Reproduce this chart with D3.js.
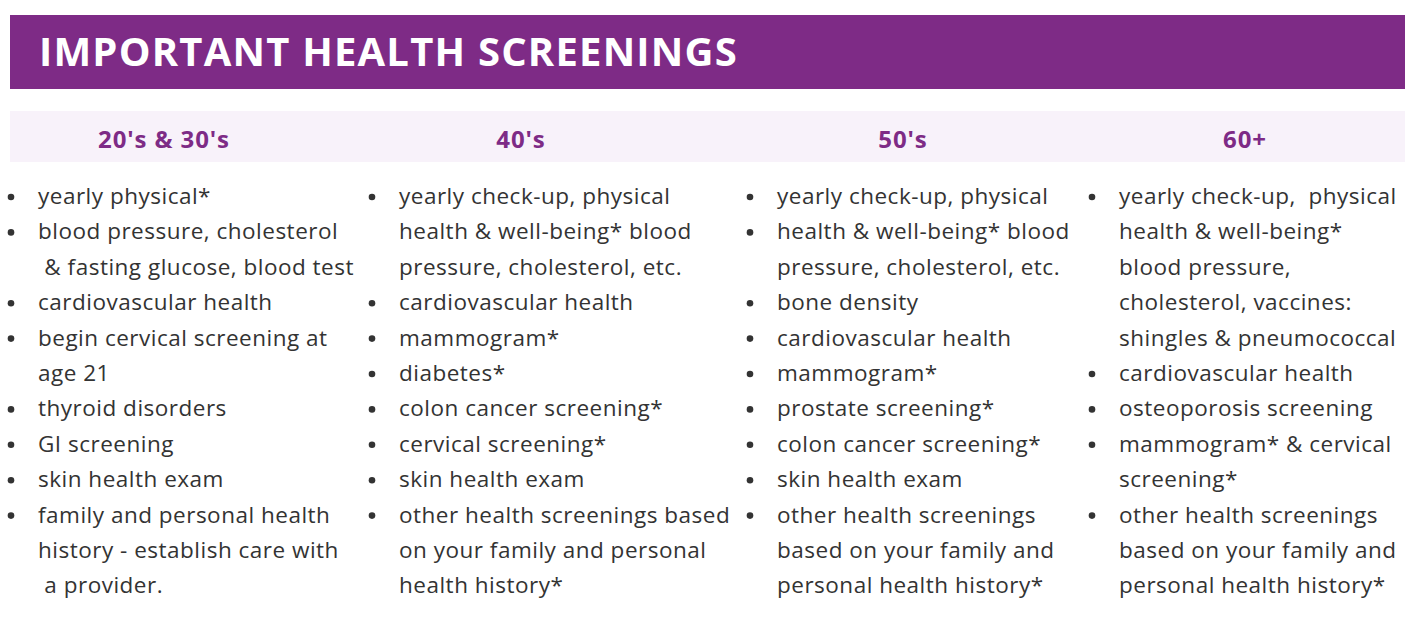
<!DOCTYPE html>
<html>
<head>
<meta charset="utf-8">
<script src="https://cdn.jsdelivr.net/npm/d3@7"></script>
<style>
  body { margin: 0; background: #fff; }
  text { font-family: "Open Sans", sans-serif; }
</style>
</head>
<body>
<script>
var svgWidth = 1417
var svgHeight = 624

var title = "IMPORTANT HEALTH SCREENINGS"
var ageGroups = ["20's & 30's", "40's", "50's", "60+"]

// each item is a bullet, each bullet is its wrapped lines
var items2030 = [
  ["yearly physical*"],
  ["blood pressure, cholesterol", " & fasting glucose, blood test"],
  ["cardiovascular health"],
  ["begin cervical screening at", "age 21"],
  ["thyroid disorders"],
  ["GI screening"],
  ["skin health exam"],
  ["family and personal health", "history - establish care with", " a provider."]
]
var items40 = [
  ["yearly check-up, physical", "health & well-being* blood", "pressure, cholesterol, etc."],
  ["cardiovascular health"],
  ["mammogram*"],
  ["diabetes*"],
  ["colon cancer screening*"],
  ["cervical screening*"],
  ["skin health exam"],
  ["other health screenings based", "on your family and personal", "health history*"]
]
var items50 = [
  ["yearly check-up, physical"],
  ["health & well-being* blood", "pressure, cholesterol, etc."],
  ["bone density"],
  ["cardiovascular health"],
  ["mammogram*"],
  ["prostate screening*"],
  ["colon cancer screening*"],
  ["skin health exam"],
  ["other health screenings", "based on your family and", "personal health history*"]
]
var items60 = [
  ["yearly check-up,  physical", "health & well-being*", "blood pressure,", "cholesterol, vaccines:", "shingles & pneumococcal"],
  ["cardiovascular health"],
  ["osteoporosis screening"],
  ["mammogram* & cervical", "screening*"],
  ["other health screenings", "based on your family and", "personal health history*"]
]
var columns = [items2030, items40, items50, items60]

var purple = '#7e2b86'

var svg = d3.select("body")
  .append("svg")
  .attr("width", svgWidth)
  .attr("height", svgHeight)

// title bar
svg.append("rect")
  .attr("x", 10).attr("y", 15)
  .attr("width", 1395).attr("height", 74)
  .attr("fill", purple)

svg.append("text")
  .attr("x", 39).attr("y", 66)
  .attr("fill", "white")
  .attr("font-size", 40)
  .attr("letter-spacing", 1.2)
  .attr("font-weight", 700)
  .text(title)

// header band
svg.append("rect")
  .attr("x", 10).attr("y", 111)
  .attr("width", 1395).attr("height", 51)
  .attr("fill", "#f8f2fa")

var headerX = d3.scaleOrdinal().domain(ageGroups).range([164, 521, 903, 1245])
var bulletX = d3.scaleOrdinal().domain(d3.range(4)).range([11, 372, 750, 1092])

svg.selectAll(".hdr")
  .data(ageGroups)
  .enter()
  .append("text")
  .attr("class", "hdr")
  .attr("x", d => headerX(d))
  .attr("y", 148)
  .attr("text-anchor", "middle")
  .attr("fill", purple)
  .attr("font-size", 24)
  .attr("letter-spacing", 0.9)
  .attr("font-weight", 700)
  .text(d => d)

var rowY = d3.scaleLinear().domain([0, 1]).range([204, 239.4])

columns.forEach(function (items, c) {
  var rows = []
  items.forEach(function (lines) {
    lines.forEach(function (line, i) {
      rows.push({ text: line, bullet: i === 0 })
    })
  })
  var g = svg.append("g")
  g.selectAll("circle")
    .data(rows.map((r, i) => ({ r: r, i: i })).filter(d => d.r.bullet))
    .enter()
    .append("circle")
    .attr("cx", bulletX(c))
    .attr("cy", d => rowY(d.i) - 7)
    .attr("r", 3.3)
    .attr("fill", "#333")
  g.selectAll("text")
    .data(rows)
    .enter()
    .append("text")
    .attr("x", bulletX(c) + 27)
    .attr("y", (d, i) => rowY(i))
    .attr("xml:space", "preserve")
    .style("white-space", "pre")
    .attr("font-size", 22.5)
    .attr("letter-spacing", 0.5)
    .attr("fill", "#333")
    .text(d => d.text)
})
</script>
</body>
</html>
